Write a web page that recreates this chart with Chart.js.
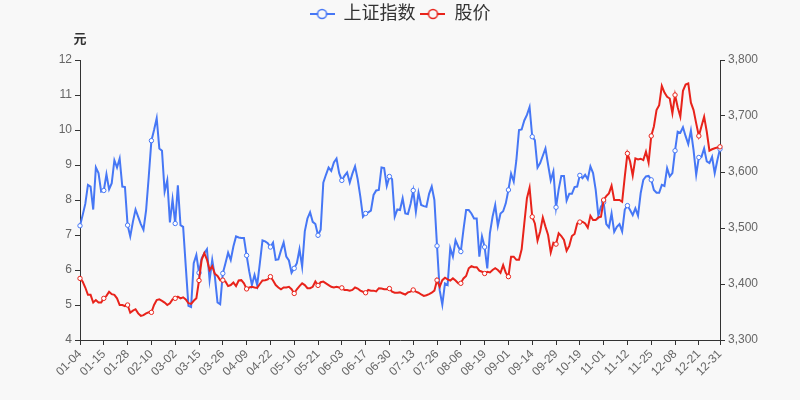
<!DOCTYPE html>
<html>
<head>
<meta charset="utf-8">
<script src="https://cdn.jsdelivr.net/npm/chart.js@4.4.1/dist/chart.umd.min.js"></script>
<style>
  html, body { margin: 0; padding: 0; background: #f8f8f8; }
  canvas { display: block; }
</style>
</head>
<body>
<canvas id="myChart" width="800" height="400"></canvas>
<script>
// trading days, 2021
const dates = [
  '01-04','01-05','01-06','01-07','01-08','01-11','01-12','01-13','01-14','01-15','01-18','01-19','01-20','01-21','01-22','01-25','01-26','01-27','01-28','01-29',
  '02-01','02-02','02-03','02-04','02-05','02-08','02-09','02-10','02-18','02-19','02-22','02-23','02-24','02-25','02-26',
  '03-01','03-02','03-03','03-04','03-05','03-08','03-09','03-10','03-11','03-12','03-15','03-16','03-17','03-18','03-19','03-22','03-23','03-24','03-25','03-26','03-29','03-30','03-31',
  '04-01','04-02','04-06','04-07','04-08','04-09','04-12','04-13','04-14','04-15','04-16','04-19','04-20','04-21','04-22','04-23','04-26','04-27','04-28','04-29','04-30',
  '05-06','05-07','05-10','05-11','05-12','05-13','05-14','05-17','05-18','05-19','05-20','05-21','05-24','05-25','05-26','05-27','05-28','05-31',
  '06-01','06-02','06-03','06-04','06-07','06-08','06-09','06-10','06-11','06-15','06-16','06-17','06-18','06-21','06-22','06-23','06-24','06-25','06-28','06-29','06-30',
  '07-01','07-02','07-05','07-06','07-07','07-08','07-09','07-12','07-13','07-14','07-15','07-16','07-19','07-20','07-21','07-22','07-23','07-26','07-27','07-28','07-29','07-30',
  '08-02','08-03','08-04','08-05','08-06','08-09','08-10','08-11','08-12','08-13','08-16','08-17','08-18','08-19','08-20','08-23','08-24','08-25','08-26','08-27','08-30','08-31',
  '09-01','09-02','09-03','09-06','09-07','09-08','09-09','09-10','09-13','09-14','09-15','09-16','09-17','09-22','09-23','09-24','09-27','09-28','09-29','09-30',
  '10-08','10-11','10-12','10-13','10-14','10-15','10-18','10-19','10-20','10-21','10-22','10-25','10-26','10-27','10-28','10-29',
  '11-01','11-02','11-03','11-04','11-05','11-08','11-09','11-10','11-11','11-12','11-15','11-16','11-17','11-18','11-19','11-22','11-23','11-24','11-25','11-26','11-29','11-30',
  '12-01','12-02','12-03','12-06','12-07','12-08','12-09','12-10','12-13','12-14','12-15','12-16','12-17','12-20','12-21','12-22','12-23','12-24','12-27','12-28','12-29','12-30','12-31',
];

// 上证指数 (right axis)
const shIndex = [
  3504, 3523, 3543, 3577, 3574, 3533, 3608, 3598, 3565, 3567,
  3596, 3569, 3580, 3621, 3608, 3624, 3574, 3573, 3505, 3485,
  3511, 3533, 3520, 3507, 3497, 3532, 3592, 3656, 3675, 3696,
  3642, 3638, 3565, 3585, 3510, 3551, 3508, 3576, 3505, 3502,
  3431, 3361, 3359, 3437, 3452, 3420, 3446, 3455, 3462, 3407,
  3443, 3413, 3367, 3364, 3419, 3437, 3456, 3443, 3467, 3485,
  3483, 3482, 3482, 3451, 3422, 3398, 3416, 3398, 3437, 3478,
  3476, 3473, 3466, 3474, 3443, 3444, 3460, 3474, 3449, 3442,
  3420, 3428, 3437, 3462, 3431, 3494, 3517, 3528, 3511, 3507,
  3487, 3497, 3581, 3595, 3608, 3602, 3617, 3624, 3598, 3585,
  3593, 3599, 3581, 3597, 3610, 3587, 3556, 3520, 3526, 3528,
  3531, 3559, 3567, 3568, 3608, 3607, 3575, 3592, 3587, 3520,
  3533, 3532, 3553, 3526, 3525, 3543, 3567, 3529, 3563, 3541,
  3539, 3538, 3561, 3574, 3550, 3468, 3389, 3363, 3401, 3398,
  3464, 3449, 3478, 3467, 3458, 3497, 3532, 3532, 3526, 3517,
  3517, 3449, 3485, 3466, 3428, 3491, 3520, 3541, 3504, 3526,
  3530, 3544, 3568, 3597, 3583, 3621, 3675, 3676, 3692, 3702,
  3716, 3663, 3657, 3608, 3616, 3629, 3642, 3613, 3585, 3601,
  3537, 3569, 3593, 3593, 3549, 3561, 3561, 3573, 3574, 3594,
  3589, 3595, 3587, 3610, 3598, 3568, 3522, 3538, 3546, 3507,
  3501, 3526, 3493, 3502, 3507, 3494, 3533, 3540, 3532, 3523,
  3535, 3522, 3562, 3586, 3592, 3593, 3586, 3568, 3563, 3563,
  3577, 3575, 3607, 3592, 3598, 3638, 3672, 3670, 3680, 3664,
  3650, 3674, 3639, 3595, 3626, 3627, 3642, 3619, 3616, 3627,
  3598, 3621, 3641,
];

// 股价 (left axis, 元)
const price = [
  5.76, 5.67, 5.50, 5.29, 5.29, 5.07, 5.14, 5.07, 5.07, 5.19,
  5.26, 5.38, 5.31, 5.29, 5.19, 5.00, 5.00, 4.97, 5.00, 4.78,
  4.84, 4.88, 4.76, 4.69, 4.71, 4.76, 4.79, 4.79, 5.00, 5.14,
  5.16, 5.12, 5.07, 5.00, 5.05, 5.16, 5.19, 5.24, 5.19, 5.22,
  5.16, 5.05, 5.03, 5.12, 5.19, 5.70, 6.29, 6.48, 6.30, 6.00,
  6.11, 5.89, 5.83, 5.71, 5.71, 5.67, 5.54, 5.57, 5.64, 5.54,
  5.70, 5.71, 5.62, 5.46, 5.50, 5.52, 5.50, 5.49, 5.60, 5.70,
  5.71, 5.73, 5.81, 5.70, 5.57, 5.50, 5.45, 5.50, 5.50, 5.52,
  5.45, 5.33, 5.45, 5.54, 5.62, 5.57, 5.48, 5.48, 5.52, 5.67,
  5.56, 5.65, 5.67, 5.62, 5.57, 5.52, 5.50, 5.52, 5.50, 5.49,
  5.43, 5.43, 5.41, 5.43, 5.50, 5.47, 5.41, 5.38, 5.35, 5.43,
  5.41, 5.41, 5.39, 5.48, 5.47, 5.45, 5.45, 5.47, 5.38, 5.35,
  5.35, 5.36, 5.33, 5.30, 5.36, 5.38, 5.43, 5.38, 5.35, 5.30,
  5.26, 5.28, 5.31, 5.35, 5.41, 5.71, 5.52, 5.71, 5.78, 5.73,
  5.70, 5.76, 5.70, 5.62, 5.62, 5.76, 5.83, 6.05, 6.11, 6.08,
  6.08, 5.98, 5.95, 5.90, 5.95, 5.93, 6.00, 6.05, 6.00, 5.92,
  6.14, 5.92, 5.81, 6.38, 6.38, 6.29, 6.29, 6.59, 7.33, 8.05,
  8.35, 7.52, 7.33, 6.84, 7.10, 7.50, 7.24, 7.00, 6.50, 6.78,
  6.74, 7.05, 6.97, 6.86, 6.55, 6.69, 6.97, 7.03, 7.33, 7.37,
  7.38, 7.33, 7.21, 7.55, 7.43, 7.43, 7.50, 7.52, 8.00, 8.11,
  8.19, 8.41, 8.00, 8.00, 8.00, 7.95, 8.67, 9.33, 9.10, 8.70,
  9.19, 9.16, 9.18, 9.14, 9.38, 9.07, 9.83, 10.10, 10.57, 10.71,
  11.26, 11.07, 10.95, 10.90, 10.48, 11.00, 10.65, 10.38, 11.12, 11.30,
  11.33, 10.78, 10.57, 10.19, 9.83, 10.11, 10.38, 9.95, 9.41, 9.45,
  9.48, 9.50, 9.52,
];

const priceRange = [4, 12];
const indexRange = [3300, 3800];

const BLUE = '#4677f5';
const RED = '#e8231b';
const BG = '#f8f8f8';
const last = dates.length - 1;
const isMarked = (i) => i % 9 === 0 || i === last;
const markRadius = (c) => (isMarked(c.dataIndex) ? 2.2 : 0);

function legendIcon(color) {
  const c = document.createElement('canvas');
  c.width = 25;
  c.height = 12;
  const g = c.getContext('2d');
  g.strokeStyle = color;
  g.lineWidth = 2;
  g.beginPath();
  g.moveTo(0, 6);
  g.lineTo(25, 6);
  g.stroke();
  g.beginPath();
  g.arc(12.5, 6, 4.5, 0, Math.PI * 2);
  g.fillStyle = BG;
  g.fill();
  g.lineWidth = 1.5;
  g.stroke();
  return c;
}
const icons = [legendIcon(BLUE), legendIcon(RED)];

// push the plot down below the legend
const legendGap = {
  id: 'legendGap',
  beforeInit(chart) {
    const fit = chart.legend.fit;
    chart.legend.fit = function () {
      fit.call(this);
      this.height = 60;
    };
  },
};

const unitLabel = {
  id: 'unitLabel',
  afterDraw(chart) {
    const { ctx } = chart;
    ctx.save();
    ctx.font = "bold 13px 'Noto Sans CJK SC', sans-serif";
    ctx.fillStyle = '#333';
    ctx.textAlign = 'center';
    ctx.textBaseline = 'middle';
    ctx.fillText('元', chart.scales.y.right, 38);
    ctx.restore();
  },
};

Chart.defaults.font.family = "'Liberation Sans', 'Noto Sans CJK SC', sans-serif";

const axisGrid = { drawOnChartArea: false, tickLength: 5, tickColor: '#333' };
const axisTicks = { color: '#666', font: { size: 12 }, padding: 3 };

new Chart(document.getElementById('myChart'), {
  type: 'line',
  data: {
    labels: dates,
    datasets: [
      {
        label: '上证指数',
        data: shIndex,
        yAxisID: 'y1',
        order: 1,
        borderColor: BLUE,
        borderWidth: 2,
        pointRadius: markRadius,
        pointBackgroundColor: '#fff',
        pointBorderColor: BLUE,
        pointBorderWidth: 1,
        clip: false,
      },
      {
        label: '股价',
        data: price,
        yAxisID: 'y',
        order: 0,
        borderColor: RED,
        borderWidth: 2,
        pointRadius: markRadius,
        pointBackgroundColor: '#fff',
        pointBorderColor: RED,
        pointBorderWidth: 1,
        clip: false,
      },
    ],
  },
  plugins: [legendGap, unitLabel],
  options: {
    responsive: false,
    animation: false,
    layout: { padding: 0 },
    plugins: {
      tooltip: { enabled: false },
      legend: {
        position: 'top',
        labels: {
          usePointStyle: true,
          pointStyleWidth: 25,
          boxHeight: 12,
          padding: 5,
          color: '#333',
          font: { size: 18 },
          generateLabels(chart) {
            const items = Chart.defaults.plugins.legend.labels.generateLabels(chart);
            items.sort((a, b) => a.datasetIndex - b.datasetIndex);
            items.forEach((it) => {
              it.pointStyle = icons[it.datasetIndex];
            });
            return items;
          },
        },
      },
    },
    scales: {
      x: {
        offset: false,
        border: { color: '#333' },
        grid: {
          drawOnChartArea: false,
          tickLength: 5,
          tickColor: (c) => (isMarked(c.index) ? '#333' : 'rgba(0,0,0,0)'),
        },
        ticks: {
          autoSkip: false,
          minRotation: 45,
          maxRotation: 45,
          color: '#666',
          font: { size: 12 },
          padding: 2,
          callback: (v, i) => (isMarked(i) ? dates[i] : ''),
        },
        afterFit(s) { s.height = 60; },
      },
      y: {
        position: 'left',
        min: priceRange[0],
        max: priceRange[1],
        border: { color: '#333' },
        grid: axisGrid,
        ticks: { ...axisTicks, stepSize: 1 },
        afterFit(s) { s.width = 80; },
      },
      y1: {
        position: 'right',
        min: indexRange[0],
        max: indexRange[1],
        border: { color: '#333' },
        grid: axisGrid,
        ticks: { ...axisTicks, stepSize: 100 },
        afterFit(s) { s.width = 80; },
      },
    },
  },
});
</script>
</body>
</html>
